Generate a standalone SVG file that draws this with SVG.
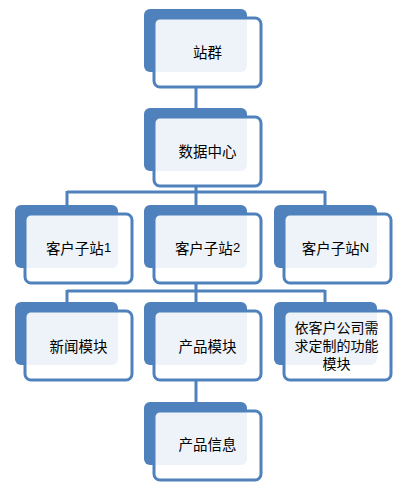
<svg xmlns="http://www.w3.org/2000/svg" width="413" height="485" viewBox="0 0 413 485">
<style>
.back{fill:#4F81BD}
.front{fill:#FFFFFF;fill-opacity:0.9;stroke:#4F81BD;stroke-width:3}
.conn{fill:none;stroke:#4F81BD;stroke-width:3}
text{font-family:"Noto Sans CJK SC","Liberation Sans",sans-serif;font-size:14.5px;fill:#000;text-anchor:middle;dominant-baseline:central}
.lat{font-family:"Liberation Sans",sans-serif;font-size:13px}
.ml{font-size:14px}
</style>
<rect width="413" height="485" fill="#FFFFFF"/>
<g id="connectors">
<path class="conn" d="M196,87 V108"/>
<path class="conn" d="M196,186 V192 M67,192 H325 M67,191 V205 M196,191 V205 M325,191 V205"/>
<path class="conn" d="M196,283 V291 M67,291 H325 M67,290 V302 M196,290 V302 M325,290 V302"/>
<path class="conn" d="M196,380 V402"/>
</g>
<g id="n1">
<rect class="back" x="144" y="9" width="103" height="63" rx="6"/>
<rect class="front" x="154" y="18" width="107" height="69" rx="6"/>
<text x="207.5" y="51">站群</text>
</g>
<g id="n2">
<rect class="back" x="144" y="108" width="103" height="63" rx="6"/>
<rect class="front" x="154" y="117" width="107" height="69" rx="6"/>
<text x="207.5" y="150">数据中心</text>
</g>
<g id="n3">
<rect class="back" x="15" y="205" width="103" height="63" rx="6"/>
<rect class="front" x="25" y="214" width="107" height="69" rx="6"/>
<text x="78.5" y="247">客户子站<tspan class="lat">1</tspan></text>
</g>
<g id="n4">
<rect class="back" x="144" y="205" width="103" height="63" rx="6"/>
<rect class="front" x="154" y="214" width="107" height="69" rx="6"/>
<text x="207.5" y="247">客户子站<tspan class="lat">2</tspan></text>
</g>
<g id="n5">
<rect class="back" x="274" y="205" width="103" height="63" rx="6"/>
<rect class="front" x="284" y="214" width="107" height="69" rx="6"/>
<text x="335.5" y="247">客户子站<tspan class="lat">N</tspan></text>
</g>
<g id="n6">
<rect class="back" x="15" y="302" width="103" height="63" rx="6"/>
<rect class="front" x="25" y="311" width="107" height="69" rx="6"/>
<text x="78.5" y="345">新闻模块</text>
</g>
<g id="n7">
<rect class="back" x="144" y="302" width="103" height="63" rx="6"/>
<rect class="front" x="154" y="311" width="107" height="69" rx="6"/>
<text x="207.5" y="345">产品模块</text>
</g>
<g id="n8">
<rect class="back" x="274" y="302" width="103" height="63" rx="6"/>
<rect class="front" x="284" y="311" width="107" height="69" rx="6"/>
<text class="ml" x="336.5" y="327">依客户公司需</text>
<text class="ml" x="336.5" y="345">求定制的功能</text>
<text class="ml" x="336.5" y="363">模块</text>
</g>
<g id="n9">
<rect class="back" x="144" y="402" width="103" height="63" rx="6"/>
<rect class="front" x="154" y="411" width="107" height="69" rx="6"/>
<text x="207.5" y="443">产品信息</text>
</g>
</svg>
